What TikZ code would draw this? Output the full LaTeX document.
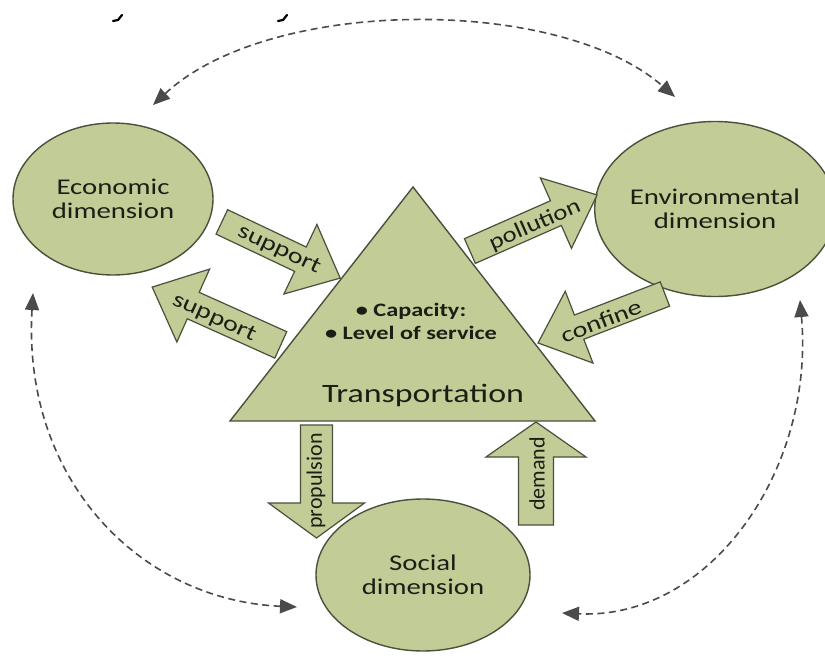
\documentclass[tikz,border=0pt]{standalone}
\usepackage{fontspec}
\usepackage{graphicx}
\setmainfont{Carlito}[FakeStretch=1.28]
\newfontfamily\uprightfont{Carlito}
\usetikzlibrary{arrows.meta,shapes.geometric}
\definecolor{sage}{RGB}{194,204,150}
\definecolor{edgegray}{RGB}{74,80,60}
\definecolor{ink}{RGB}{28,30,22}
\definecolor{linkgray}{RGB}{75,75,75}

\begin{document}
\begin{tikzpicture}[x=1pt,y=-1pt,
  dimnode/.style={ellipse, draw=edgegray, line width=1.4pt, fill=sage, inner sep=0pt,
    align=center, text=ink, font=\fontsize{22.5}{24}\selectfont},
  tri/.style={draw=edgegray, line width=1.4pt, fill=sage, line join=miter},
  barrow/.style={draw=edgegray, line width=1.2pt, fill=sage, line join=miter},
  arrlabel/.style={text=ink, font=\fontsize{22}{24}\selectfont, inner sep=0pt},
  vlabel/.style={text=ink, font=\uprightfont\fontsize{22}{24}\selectfont, inner sep=0pt},
  link/.style={draw=linkgray, line width=1.6pt, dash pattern=on 7pt off 4.5pt,
    {Triangle[length=17pt,width=14pt]}-{Triangle[length=17pt,width=14pt]}},
  % block arrow along +x: length, shaft width, head width, head length
  pics/blockarrow/.style n args={4}{code={
    \path[barrow] ({-#1/2},{-#2/2}) -- ({#1/2-#4},{-#2/2}) -- ({#1/2-#4},{-#3/2})
      -- ({#1/2},0) -- ({#1/2-#4},{#3/2}) -- ({#1/2-#4},{#2/2}) -- ({-#1/2},{#2/2}) -- cycle;
  }}
]
\path[use as bounding box, fill=white] (0,0) rectangle (825,661);

% fragments of the clipped heading
\draw[line width=2.2pt, line cap=round, line join=round] (113,21) -- (118,20) -- (122,15);
\draw[line width=2.2pt, line cap=round, line join=round] (278,21) -- (283,20) -- (287,15);

% the three dimensions
\node[dimnode, minimum width=200pt, minimum height=152pt] (econ) at (113,199) {Economic\\dimension};
\node[dimnode, minimum width=218pt, minimum height=175pt] (env) at (715,209) {Environmental\\dimension};
\node[dimnode, minimum width=214pt, minimum height=152pt] (soc) at (423,575) {Social\\dimension};

% mutual links between the dimensions
\coordinate (t1) at (153,105); \coordinate (t2) at (675,97);
\coordinate (l1) at (33,293);  \coordinate (l2) at (297,607);
\coordinate (r1) at (800,300); \coordinate (r2) at (562,613);
\draw[link] (t1) .. controls (270,-4) and (560,-4) .. (t2);
\draw[link] (l1) .. controls (22,480) and (140,600) .. (l2);
\draw[link] (r1) .. controls (815,470) and (710,620) .. (r2);

% transportation triangle
\coordinate (apex) at (413,187);
\coordinate (bright) at (595,421);
\coordinate (bleft) at (230,421);
\path[tri] (apex) -- (bright) -- (bleft) -- cycle;
\node[text=ink, align=center, inner sep=0pt, font=\bfseries\fontsize{19}{23}\selectfont] (specs) at (411,321)
  {\textbullet\ Capacity:\\\textbullet\ Level of service};
\node[text=ink, inner sep=0pt, font=\fontsize{26.5}{28}\selectfont] (transp) at (423,395) {Transportation};

% block arrows between transportation and the dimensions
\pic[rotate=-25.4] (supin) at (281,250) {blockarrow={131}{27}{77}{44}};
\node[arrlabel, rotate=-25.4] (supinlbl) at (279,250) {support};

\pic[rotate=155.8] (supout) at (216.5,316) {blockarrow={141}{29}{80}{45}};
\node[arrlabel, rotate=-24.2] (supoutlbl) at (214,318) {support};

\pic[rotate=23.8] (poll) at (533.5,223) {blockarrow={139}{27}{77}{45}};
\node[vlabel, rotate=23.8] (polllbl) at (535,225) {\scalebox{1.22}[1]{pollution}};

\pic[rotate=-158.9] (conf) at (601.5,318.5) {blockarrow={136}{26}{77}{44}};
\node[arrlabel, rotate=21.1] (conflbl) at (601,321) {confine};

\pic[rotate=-90] (prop) at (316.5,481.5) {blockarrow={113}{32}{96}{35}};
\node[vlabel, rotate=90] (proplbl) at (316,481) {propulsion};

\pic[rotate=90] (dem) at (536,473.5) {blockarrow={103}{35}{100}{35}};
\node[vlabel, rotate=90] (demlbl) at (537,474) {demand};
\end{tikzpicture}
\end{document}
